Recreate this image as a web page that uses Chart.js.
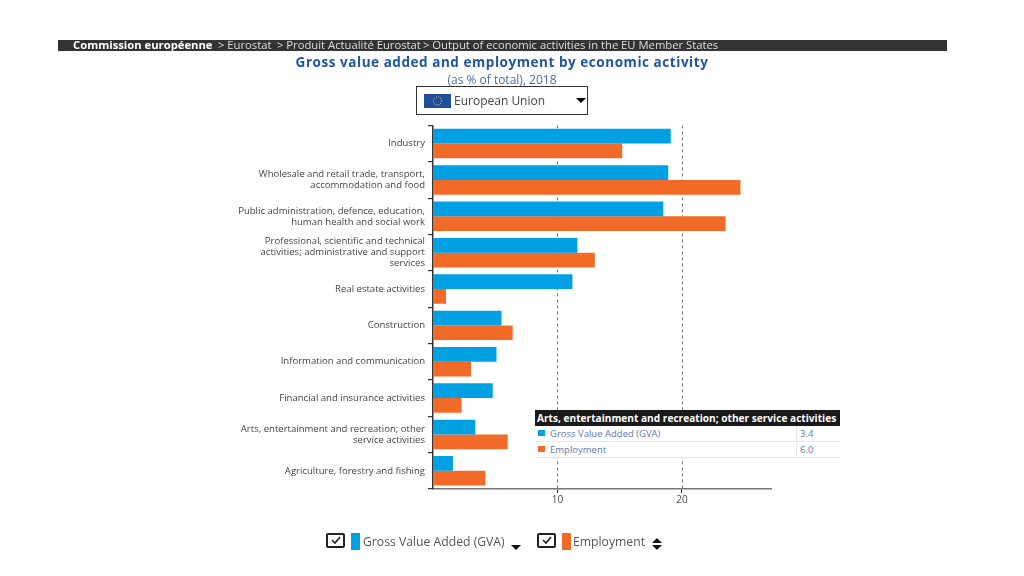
<!DOCTYPE html>
<html>
<head>
<meta charset="utf-8">
<title>Gross value added and employment by economic activity</title>
<script src="https://cdn.jsdelivr.net/npm/chart.js@4/dist/chart.umd.js"></script>
<style>
  html, body { margin: 0; padding: 0; background: #fff; }
  body { width: 1024px; height: 576px; overflow: hidden; position: relative; font-family: "Open Sans", sans-serif; }
  canvas { position: absolute; left: 0; top: 0; }
  .abs { position: absolute; white-space: nowrap; }
  #crumbs { left: 58px; top: 40px; width: 889px; height: 11px; background: #333; color: #ddd; font-size: 11.25px; line-height: 11px; }
  #crumbs span { position: absolute; top: -1px; }
  #title { left: 0; width: 1004px; top: 53px; text-align: center; color: #1d559f; font-size: 13.5px; font-weight: 700; letter-spacing: .55px; }
  #subtitle { left: 0; width: 1004px; top: 71px; text-align: center; color: #4a6fa8; font-size: 12px; }
  #select { left: 416px; top: 86px; width: 170px; height: 27px; border: 1px solid #333; }
  #select svg { position: absolute; left: 7px; top: 7px; }
  #select .name { position: absolute; left: 37px; top: 5px; font-size: 12px; color: #444; }
  #select .caret { position: absolute; left: 159px; top: 11px; width: 0; height: 0; border: 5px solid transparent; border-top: 5px solid #000; }
  #tip { left: 535px; top: 410px; width: 305px; height: 48px; background: #fff; font-size: 9.5px; color: #6478a8; }
  #tip .head { height: 16px; line-height: 16px; background: #1a1a1a; color: #fff; font-weight: 700; padding-left: 2px; font-size: 10.15px; }
  #tip .row { position: relative; box-sizing: border-box; height: 16px; line-height: 16px; border-bottom: 1px solid #e6e8ee; }
  #tip .sw { position: absolute; left: 3px; top: 4px; width: 7px; height: 6px; }
  #tip .lb { position: absolute; left: 15px; }
  #tip .vl { position: absolute; left: 261px; padding-left: 3px; border-left: 1px solid #e6e8ee; height: 16px; }
  .check { width: 15px; height: 11px; border: 2px solid #222; border-radius: 2px; top: 533px; }
  .check svg { position: absolute; left: 1px; top: -1px; }
  .swatch { top: 533px; width: 9px; height: 17px; }
  .leg { top: 533px; font-size: 12.2px; color: #555; }
  .up { width: 0; height: 0; border: 5px solid transparent; border-bottom: 5px solid #111; border-top: 0; }
  .down { width: 0; height: 0; border: 5px solid transparent; border-top: 5px solid #111; border-bottom: 0; }
</style>
</head>
<body>
<canvas id="chart" width="1024" height="576"></canvas>

<div id="crumbs" class="abs">
  <span style="left:15px;color:#fff;font-weight:700">Commission européenne</span>
  <span style="left:160px">&gt; Eurostat</span>
  <span style="left:219px">&gt; Produit Actualité Eurostat</span>
  <span style="left:365px">&gt; Output of economic activities in the EU Member States</span>
</div>
<div id="title" class="abs">Gross value added and employment by economic activity</div>
<div id="subtitle" class="abs">(as % of total), 2018</div>
<div id="select" class="abs">
  <svg width="27" height="14" viewBox="0 0 27 14">
    <rect width="27" height="14" fill="#1f4f9c"/>
    <circle cx="13.5" cy="7" r="4" fill="none" stroke="#e8d23a" stroke-width="1" stroke-dasharray="1 1.1"/>
  </svg>
  <span class="name">European Union</span>
  <span class="caret"></span>
</div>

<div id="tip" class="abs"></div>

<div class="abs check" style="left:326px">
  <svg width="13" height="12" viewBox="0 0 13 12"><path d="M3 6 L6 9 L11 3" fill="none" stroke="#222" stroke-width="1.6"/></svg>
</div>
<div class="abs swatch" style="left:351px;background:#00a0e3"></div>
<div class="abs leg" style="left:363px">Gross Value Added (GVA)</div>
<div class="abs down" style="left:511px;top:545px"></div>
<div class="abs check" style="left:537px">
  <svg width="13" height="12" viewBox="0 0 13 12"><path d="M3 6 L6 9 L11 3" fill="none" stroke="#222" stroke-width="1.6"/></svg>
</div>
<div class="abs swatch" style="left:562px;background:#f26a27"></div>
<div class="abs leg" style="left:573px">Employment</div>
<div class="abs up" style="left:652px;top:538px"></div>
<div class="abs down" style="left:652px;top:545px"></div>

<script>
const categories = [
  ["Industry"],
  ["Wholesale and retail trade, transport,", "accommodation and food"],
  ["Public administration, defence, education,", "human health and social work"],
  ["Professional, scientific and technical", "activities; administrative and support", "services"],
  ["Real estate activities"],
  ["Construction"],
  ["Information and communication"],
  ["Financial and insurance activities"],
  ["Arts, entertainment and recreation; other", "service activities"],
  ["Agriculture, forestry and fishing"]
]
const gva = [19.1, 18.9, 18.5, 11.6, 11.2, 5.5, 5.1, 4.8, 3.4, 1.6]
const employment = [15.2, 24.7, 23.5, 13.0, 1.05, 6.4, 3.05, 2.3, 6.0, 4.2]
const xTicks = [10, 20]
const xMax = 27.15

const blue = "#00a0e3"
const orange = "#f26a27"

// left side of the plot is pinned, labels hang off it
const plotLeft = 433

new Chart(document.getElementById("chart"), {
  type: "bar",
  data: {
    labels: categories,
    datasets: [
      { label: "Gross Value Added (GVA)", data: gva, backgroundColor: blue },
      { label: "Employment", data: employment, backgroundColor: orange }
    ]
  },
  options: {
    indexAxis: "y",
    responsive: false,
    animation: false,
    layout: { padding: { top: 125.4, bottom: 57, right: 253, left: 0 } },
    datasets: { bar: { barPercentage: 1, categoryPercentage: 0.81 } },
    scales: {
      x: {
        min: 0,
        max: xMax,
        afterFit: (s) => { s.height = 30 },
        afterBuildTicks: (s) => { s.ticks = xTicks.map((v) => ({ value: v })) },
        border: { color: "#777", width: 1.5 },
        grid: { drawOnChartArea: false, tickLength: 4, color: "#222", lineWidth: 1 },
        ticks: { color: "#444", font: { family: "Open Sans", size: 10 }, padding: 1, maxRotation: 0 }
      },
      y: {
        afterFit: (s) => { s.width = plotLeft },
        border: { color: "#333", width: 1.5 },
        grid: { offset: true, drawOnChartArea: false, tickLength: 5, color: "#333", lineWidth: 1.2 },
        ticks: {
          autoSkip: false,
          color: "#444",
          padding: 3,
          font: { family: "Open Sans", size: 9.55, lineHeight: 1.15 }
        }
      }
    },
    plugins: { legend: { display: false }, tooltip: { enabled: false } }
  },
  plugins: [{
    // dashed verticals at the ticks only, drawn behind the bars
    id: "dashedGrid",
    beforeDatasetsDraw(chart) {
      const { ctx, chartArea, scales } = chart
      ctx.save()
      ctx.strokeStyle = "#777"
      ctx.lineWidth = 1
      ctx.setLineDash([3, 3])
      xTicks.forEach((v) => {
        const x = Math.round(scales.x.getPixelForValue(v)) + 0.5
        ctx.beginPath()
        ctx.moveTo(x, chartArea.top)
        ctx.lineTo(x, chartArea.bottom)
        ctx.stroke()
      })
      ctx.restore()
    }
  }]
})

// fixed tooltip over the Arts row, as in the screenshot
const tipIndex = 8
const rows = [["Gross Value Added (GVA)", gva, blue], ["Employment", employment, orange]]
document.getElementById("tip").innerHTML =
  '<div class="head">' + categories[tipIndex].join(" ") + "</div>" +
  rows.map((r) =>
    '<div class="row"><span class="sw" style="background:' + r[2] + '"></span>' +
    '<span class="lb">' + r[0] + '</span><span class="vl">' + r[1][tipIndex].toFixed(1) + "</span></div>"
  ).join("")
</script>
</body>
</html>
